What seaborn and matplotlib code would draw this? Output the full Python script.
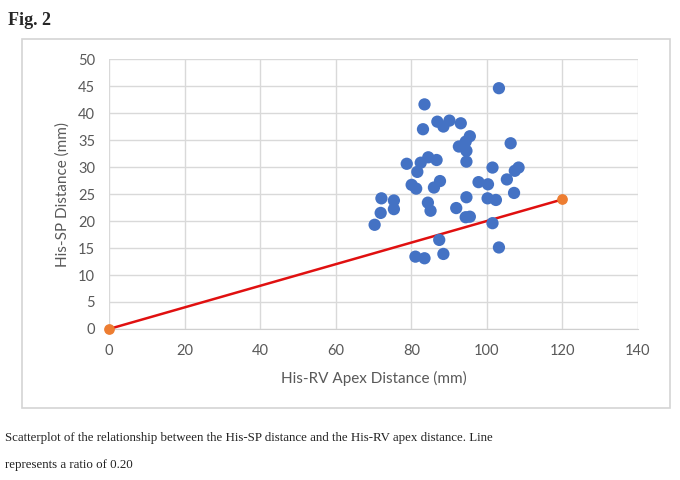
import pandas as pd
import matplotlib.pyplot as plt
import matplotlib.patches as patches
import seaborn as sns

# His-RV apex distance (x) and His-SP distance (y), both in mm
rv_apex = [103.2, 83.5, 86.9, 90.1, 88.5, 93.1, 83.1, 95.5, 94.4, 92.6,
           94.6, 106.3, 84.5, 86.7, 94.6, 78.8, 82.5, 81.6, 101.5, 108.4,
           107.4, 105.3, 97.8, 100.3, 80.1, 81.3, 87.6, 86.0, 107.2, 72.1,
           75.4, 94.6, 100.2, 102.4, 84.4, 91.9, 75.4, 71.9, 70.3, 85.1,
           94.4, 95.5, 101.5, 87.4, 103.2, 81.1, 83.5, 88.5]
his_sp = [44.6, 41.6, 38.4, 38.6, 37.5, 38.1, 37.0, 35.7, 34.7, 33.8,
          33.0, 34.4, 31.8, 31.3, 31.0, 30.6, 30.8, 29.1, 29.9, 29.9,
          29.3, 27.7, 27.2, 26.8, 26.7, 26.0, 27.4, 26.2, 25.2, 24.2,
          23.8, 24.4, 24.2, 23.9, 23.4, 22.4, 22.2, 21.5, 19.3, 21.9,
          20.7, 20.8, 19.6, 16.5, 15.1, 13.4, 13.1, 13.9]

# reference line, ratio 0.20
ratio_x = [0, 120]
ratio_y = [0, 24]

x_ticks = [0, 20, 40, 60, 80, 100, 120, 140]
y_ticks = [0, 5, 10, 15, 20, 25, 30, 35, 40, 45, 50]

df = pd.DataFrame({"rv": rv_apex, "sp": his_sp})
line_df = pd.DataFrame({"x": ratio_x, "y": ratio_y})

sns.set_style("white")
plt.rcParams["font.family"] = ["Lato", "DejaVu Sans"]

fig = plt.figure(figsize=(6.8, 4.8), dpi=100)
fig.patch.set_facecolor("white")

# chart frame like the Excel chart area
frame = patches.Rectangle((0.032, 0.15), 0.953, 0.769, transform=fig.transFigure,
                          facecolor="white", edgecolor="#d4d4d4", linewidth=1.2, zorder=-1)
fig.patches.append(frame)

ax = fig.add_axes([0.1603, 0.3146, 0.7779, 0.5624])
ax.set_facecolor("none")

sns.lineplot(data=line_df, x="x", y="y", ax=ax, color="#e01010", linewidth=1.8,
             zorder=3)
ax.scatter(ratio_x, ratio_y, s=45, color="#ed7d31", zorder=4, clip_on=False)
sns.scatterplot(data=df, x="rv", y="sp", ax=ax, s=78, color="#4472c4",
                edgecolor="none", zorder=5)

ax.set_xlim(0, 140)
ax.set_ylim(0, 50)
ax.set_xticks(x_ticks)
ax.set_yticks(y_ticks)
ax.grid(True, color="#d9d9d9", linewidth=1)
ax.set_axisbelow(True)
for side in ["top", "right", "left"]:
    ax.spines[side].set_visible(False)
ax.spines["bottom"].set_color("#cfcfcf")
ax.tick_params(axis="both", length=0, labelsize=10.5, labelcolor="#595959")
ax.tick_params(axis="x", pad=11)
ax.tick_params(axis="y", pad=10)

ax.set_xlabel("His-RV Apex Distance (mm)", fontsize=11, color="#595959", labelpad=9)
ax.set_ylabel("His-SP Distance (mm)", fontsize=11, color="#595959", labelpad=6)

fig.text(0.012, 0.958, "Fig. 2", fontsize=13, fontweight="bold",
         family="Liberation Serif", va="center", ha="left")
fig.text(0.007, 0.088,
         "Scatterplot of the relationship between the His-SP distance and the His-RV apex distance. Line",
         fontsize=9.3, family="Liberation Serif", color="#222222", va="center", ha="left")
fig.text(0.007, 0.032, "represents a ratio of 0.20",
         fontsize=9.3, family="Liberation Serif", color="#222222", va="center", ha="left")

plt.savefig("out.png", dpi=100)
